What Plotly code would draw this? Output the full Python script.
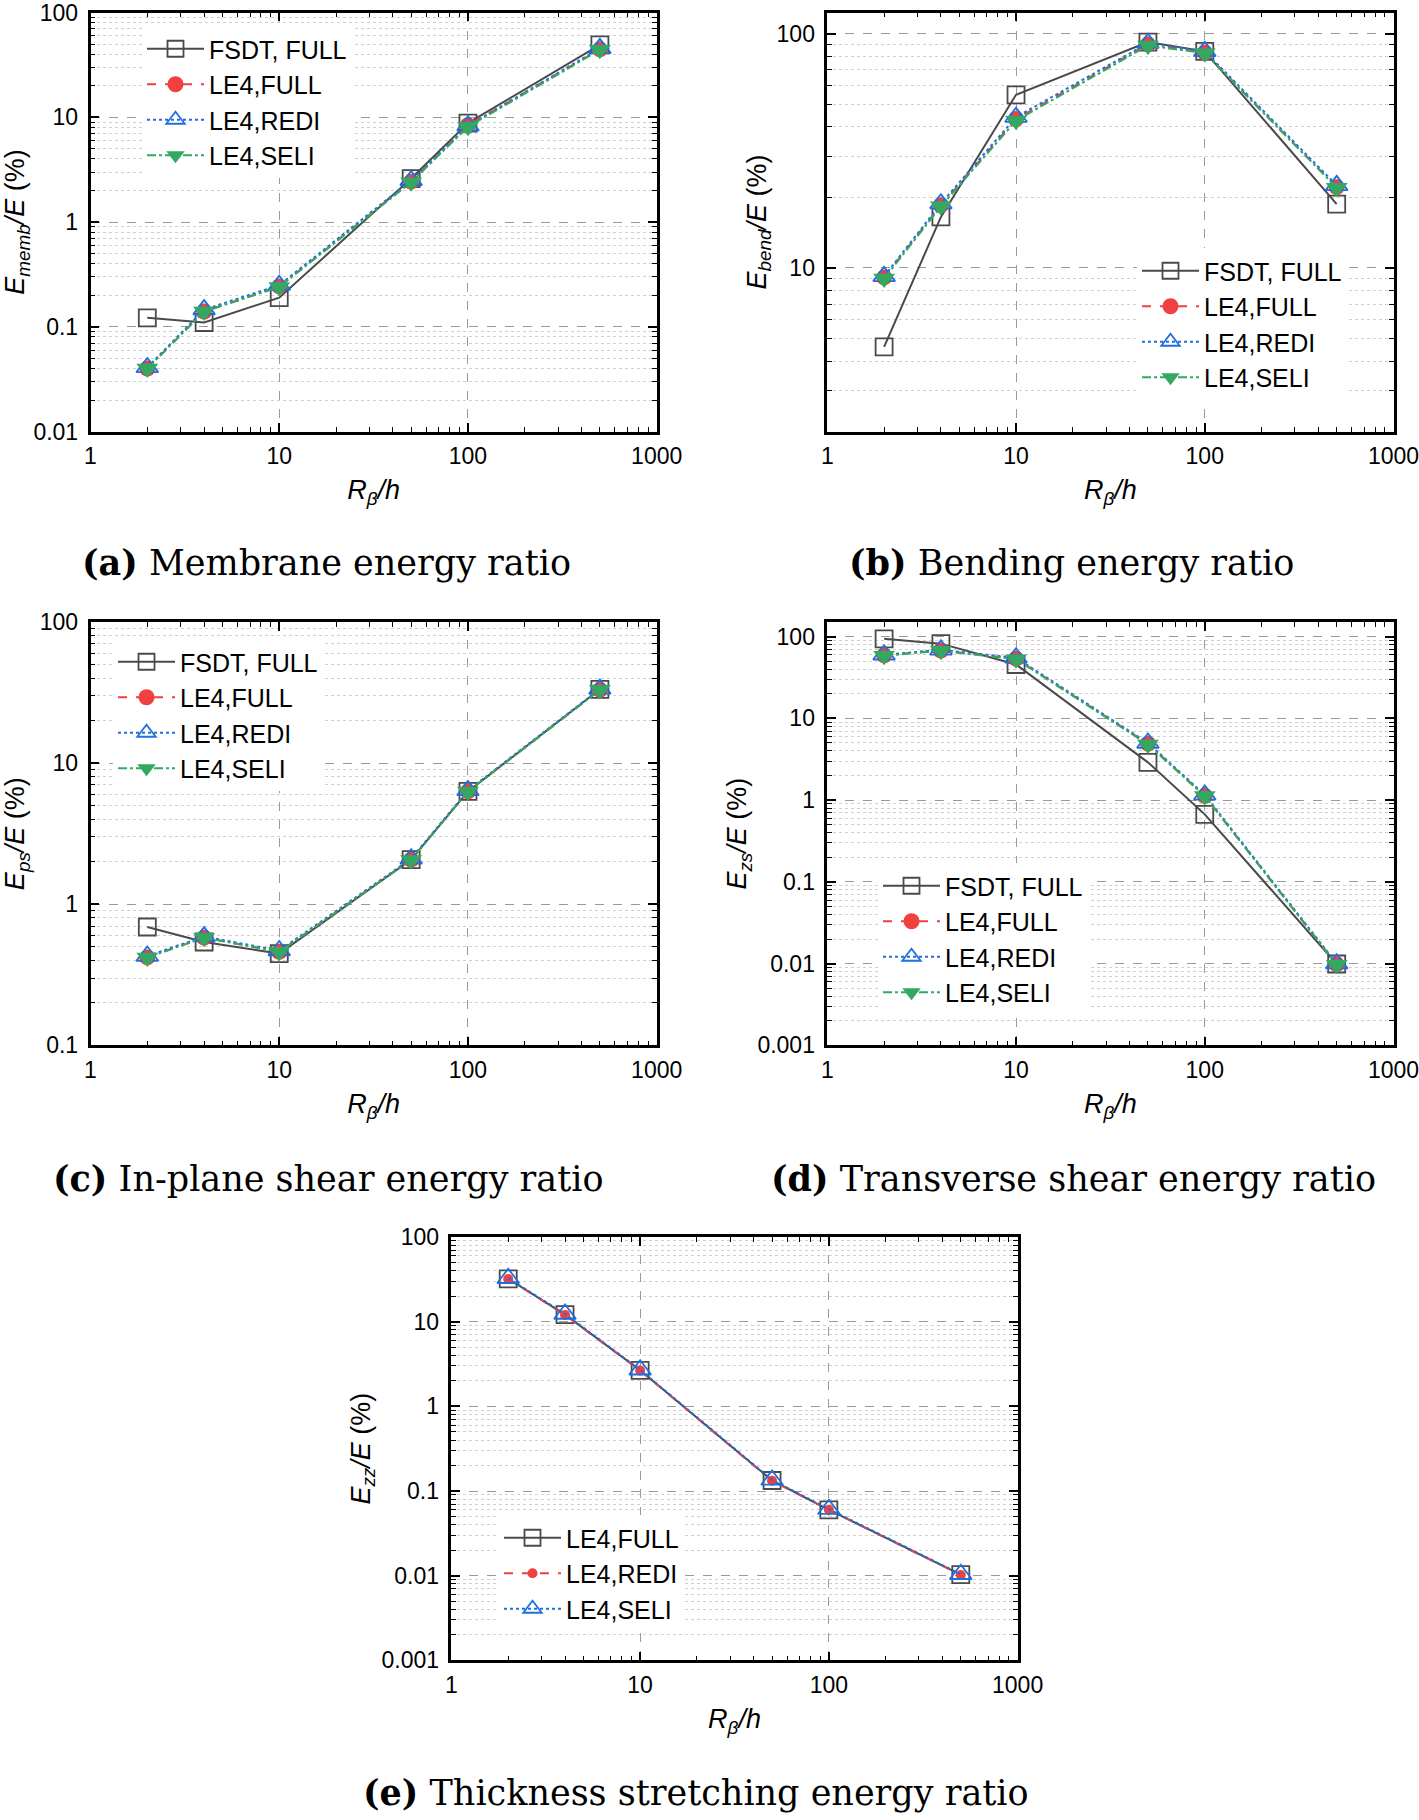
import math
import plotly.graph_objects as go

# ---------------- data ----------------
x_vals = [2, 4, 10, 50, 100, 500]

memb_fsdt_full = [0.122, 0.110, 0.190, 2.60, 8.8, 49.0]
memb_le4_full = [0.040, 0.140, 0.243, 2.43, 8.4, 44.5]
memb_le4_redi = [0.041, 0.146, 0.250, 2.50, 8.3, 45.5]
memb_le4_seli = [0.040, 0.140, 0.240, 2.40, 8.1, 44.0]

bend_fsdt_full = [4.6, 16.5, 54.8, 92.0, 84.0, 18.7]
bend_le4_full = [9.1, 18.5, 43.2, 90.0, 83.0, 22.1]
bend_le4_redi = [9.2, 18.8, 44.0, 91.0, 84.0, 22.5]
bend_le4_seli = [9.0, 18.3, 42.5, 89.0, 82.5, 22.0]

ps_fsdt_full = [0.69, 0.54, 0.447, 2.07, 6.3, 33.3]
ps_le4_full = [0.42, 0.58, 0.46, 2.07, 6.3, 33.0]
ps_le4_redi = [0.43, 0.59, 0.47, 2.10, 6.4, 33.5]
ps_le4_seli = [0.42, 0.58, 0.46, 2.06, 6.3, 33.0]

zs_fsdt_full = [94.0, 82.0, 45.6, 2.9, 0.67, 0.0099]
zs_le4_full = [59.0, 67.6, 53.7, 4.9, 1.13, 0.0098]
zs_le4_redi = [60.0, 69.0, 55.0, 5.0, 1.16, 0.0100]
zs_le4_seli = [58.5, 67.0, 53.0, 4.8, 1.12, 0.0097]

zz_le4_full = [32.0, 12.1, 2.66, 0.133, 0.060, 0.0103]
zz_le4_redi = [31.8, 12.0, 2.64, 0.132, 0.060, 0.0102]
zz_le4_seli = [32.5, 12.3, 2.70, 0.135, 0.061, 0.0104]

names4 = ["FSDT, FULL", "LE4,FULL", "LE4,REDI", "LE4,SELI"]
names3 = ["LE4,FULL", "LE4,REDI", "LE4,SELI"]

x_ticks = [1, 10, 100, 1000]
x_ticklabels = ["1", "10", "100", "1000"]

captions = [
    ("(a)", "Membrane energy ratio"),
    ("(b)", "Bending energy ratio"),
    ("(c)", "In-plane shear energy ratio"),
    ("(d)", "Transverse shear energy ratio"),
    ("(e)", "Thickness stretching energy ratio"),
]

y_titles = [
    "<i>E<sub>memb</sub>/E</i> (%)",
    "<i>E<sub>bend</sub>/E</i> (%)",
    "<i>E<sub>ps</sub>/E</i> (%)",
    "<i>E<sub>zs</sub>/E</i> (%)",
    "<i>E<sub>zz</sub>/E</i> (%)",
]

# ---------------- styles ----------------
W, H = 1419, 1820
GRAY = "#4a4a4a"
RED = "#f04040"
BLUE = "#1e6fe0"
GREEN = "#33a860"
SANS = "Liberation Sans, Arial, sans-serif"
SERIF = "DejaVu Serif, serif"

style4 = [
    dict(line=dict(color=GRAY, width=2, dash="solid"),
         marker=dict(symbol="square-open", size=17, color=GRAY, line=dict(width=1.8, color=GRAY))),
    dict(line=dict(color=RED, width=2, dash="dash"),
         marker=dict(symbol="circle", size=16, color=RED, line=dict(width=0))),
    dict(line=dict(color=BLUE, width=2, dash="dot"),
         marker=dict(symbol="triangle-up-open", size=19, color=BLUE, line=dict(width=1.8, color=BLUE))),
    dict(line=dict(color=GREEN, width=2, dash="dashdot"),
         marker=dict(symbol="triangle-down", size=19, color=GREEN, line=dict(width=0))),
]
style3 = [
    dict(line=dict(color=GRAY, width=2, dash="solid"),
         marker=dict(symbol="square-open", size=17, color=GRAY, line=dict(width=1.8, color=GRAY))),
    dict(line=dict(color=RED, width=2, dash="dash"),
         marker=dict(symbol="circle", size=10, color=RED, line=dict(width=0))),
    dict(line=dict(color=BLUE, width=2, dash="dot"),
         marker=dict(symbol="triangle-up-open", size=19, color=BLUE, line=dict(width=1.8, color=BLUE))),
]

# panel boxes in pixels: left, right, top, bottom
boxes = [
    (90.5, 656.7, 12.5, 431.6),
    (827.3, 1393.5, 12.5, 431.6),
    (90.5, 656.7, 621.9, 1045.4),
    (827.3, 1393.5, 621.9, 1045.4),
    (451.4, 1017.6, 1236.9, 1660.4),
]
y_ranges = [
    [-2, 2],
    [math.log10(2), 2.09],
    [-1, 2],
    [-3, 2.18],
    [-3, 2],
]
y_title_standoff = [14, 3, 14, 3, 4]
# legend top-left positions in pixels
legend_pos = [
    (142, 26),
    (1137, 248),
    (113, 639),
    (878, 863),
    (499, 1515),
]
# caption centres in pixels
caption_pos = [
    (326, 562),
    (1071, 562),
    (328, 1178),
    (1073, 1178),
    (696, 1792),
]

panels = [
    (list(zip(names4, [memb_fsdt_full, memb_le4_full, memb_le4_redi, memb_le4_seli])), style4),
    (list(zip(names4, [bend_fsdt_full, bend_le4_full, bend_le4_redi, bend_le4_seli])), style4),
    (list(zip(names4, [ps_fsdt_full, ps_le4_full, ps_le4_redi, ps_le4_seli])), style4),
    (list(zip(names4, [zs_fsdt_full, zs_le4_full, zs_le4_redi, zs_le4_seli])), style4),
    (list(zip(names3, [zz_le4_full, zz_le4_redi, zz_le4_seli])), style3),
]

fig = go.Figure()
layout = dict(
    width=W, height=H,
    margin=dict(l=0, r=0, t=0, b=0, autoexpand=False),
    paper_bgcolor="white",
    plot_bgcolor="white",
    font=dict(family=SANS, color="black", size=23),
    annotations=[],
)

for i, ((series, styles), box) in enumerate(zip(panels, boxes)):
    n = i + 1
    xa = "x" if n == 1 else f"x{n}"
    ya = "y" if n == 1 else f"y{n}"
    leg = "legend" if n == 1 else f"legend{n}"
    for (name, vals), st in zip(series, styles):
        fig.add_trace(go.Scatter(
            x=x_vals, y=vals, name=name, mode="lines+markers",
            xaxis=xa, yaxis=ya, legend=leg,
            line=st["line"], marker=st["marker"],
        ))
    l, r, t, b = box
    common = dict(
        type="log",
        automargin=False,
        ticklabeloverflow="allow",
        showline=True, linecolor="black", linewidth=2.5, mirror="allticks",
        ticks="inside", ticklen=9, tickwidth=1.5, tickcolor="black",
        showgrid=True, gridcolor="#9a9a9a", griddash="dash", gridwidth=1,
        zeroline=False,
        tickfont=dict(family=SANS, size=23, color="black"),
    )
    layout[f"xaxis{'' if n == 1 else n}"] = dict(
        common,
        domain=[l / W, r / W],
        anchor=ya,
        range=[0, 3],
        tickvals=x_ticks, ticktext=x_ticklabels,
        ticklabelstandoff=2,
        minor=dict(dtick="D1", ticks="inside", ticklen=5, tickwidth=1.2,
                   tickcolor="black", showgrid=False),
        title=dict(text="<i>R<sub>β</sub>/h</i>",
                   font=dict(family=SANS, size=27, color="black"), standoff=13),
    )
    layout[f"yaxis{'' if n == 1 else n}"] = dict(
        common,
        domain=[1 - b / H, 1 - t / H],
        anchor=xa,
        range=y_ranges[i],
        dtick=1,
        ticklabelstandoff=5,
        minor=dict(dtick="D1", ticks="inside", ticklen=5, tickwidth=1.2,
                   tickcolor="black", showgrid=True, gridcolor="#d0d0d0",
                   griddash="dot", gridwidth=1),
        title=dict(text=y_titles[i],
                   font=dict(family=SANS, size=27, color="black"),
                   standoff=y_title_standoff[i]),
    )
    lx, ly = legend_pos[i]
    layout[leg] = dict(
        x=lx / W, y=1 - ly / H, xanchor="left", yanchor="top",
        bgcolor="white", borderwidth=0,
        font=dict(family=SANS, size=25, color="black"),
        itemwidth=57, tracegroupgap=0,
    )
    cx, cy = caption_pos[i]
    lab, txt = captions[i]
    layout["annotations"].append(dict(
        x=cx / W, y=1 - cy / H, xref="paper", yref="paper",
        xanchor="center", yanchor="middle", showarrow=False,
        text=f"<b>{lab}</b> {txt}",
        font=dict(family=SERIF, size=35, color="black"),
    ))

fig.update_layout(**layout)
fig.write_html(
    "out.html",
    config={"displayModeBar": False},
    post_script="document.body.style.margin='0';document.body.style.overflow='hidden';",
)
